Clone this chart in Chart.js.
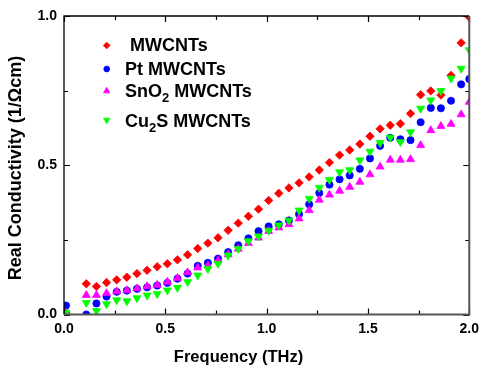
<!DOCTYPE html>
<html>
<head>
<meta charset="utf-8">
<script src="https://cdn.jsdelivr.net/npm/chart.js@4"></script>
<style>
html,body{margin:0;padding:0;background:#fff;}
canvas{display:block;}
</style>
</head>
<body>
<canvas id="c" width="485" height="369"></canvas>
<script>
// Frequency (THz)
const freq = [0.01, 0.11, 0.16, 0.21, 0.26, 0.31, 0.36, 0.41, 0.46, 0.51, 0.56, 0.61, 0.66, 0.71, 0.76, 0.81, 0.86, 0.91, 0.96, 1.01,
              1.06, 1.11, 1.16, 1.21, 1.26, 1.31, 1.36, 1.41, 1.46, 1.51, 1.56, 1.61, 1.66, 1.71, 1.76, 1.81, 1.86, 1.91, 1.96, 2.0];
// Real conductivity (1/Ωcm)
const mwcnts = [0.005, 0.103, 0.094, 0.107, 0.116, 0.125, 0.137, 0.148, 0.160, 0.170, 0.183, 0.200, 0.221, 0.239, 0.257, 0.282, 0.306, 0.329, 0.353, 0.382,
                0.406, 0.424, 0.441, 0.461, 0.484, 0.509, 0.534, 0.551, 0.571, 0.597, 0.622, 0.634, 0.639, 0.673, 0.736, 0.749, 0.735, 0.801, 0.910, 0.996];
const ptMwcnts = [0.030, 0.000, 0.037, 0.060, 0.076, 0.080, 0.086, 0.091, 0.097, 0.106, 0.120, 0.137, 0.163, 0.173, 0.187, 0.209, 0.232, 0.255, 0.279, 0.295,
                  0.302, 0.315, 0.336, 0.369, 0.407, 0.435, 0.453, 0.466, 0.488, 0.523, 0.565, 0.592, 0.587, 0.584, 0.644, 0.692, 0.691, 0.716, 0.771, 0.789];
const sno2Mwcnts = [0.005, 0.065, 0.065, 0.071, 0.077, 0.081, 0.087, 0.094, 0.099, 0.109, 0.122, 0.141, 0.157, 0.164, 0.181, 0.201, 0.220, 0.239, 0.257, 0.279,
                    0.291, 0.302, 0.321, 0.349, 0.384, 0.401, 0.414, 0.427, 0.444, 0.469, 0.495, 0.518, 0.518, 0.520, 0.567, 0.617, 0.631, 0.638, 0.670, 0.712];
const cu2sMwcnts = [0.007, 0.039, 0.012, 0.035, 0.048, 0.045, 0.055, 0.064, 0.069, 0.081, 0.090, 0.109, 0.131, 0.153, 0.170, 0.198, 0.220, 0.246, 0.262, 0.281,
                    0.299, 0.315, 0.349, 0.388, 0.425, 0.451, 0.477, 0.484, 0.517, 0.546, 0.575, 0.593, 0.578, 0.611, 0.690, 0.718, 0.749, 0.791, 0.824, 0.886];
const xTicks = [0, 0.5, 1.0, 1.5, 2.0];
const yTicks = [0, 0.5, 1.0];
const xTitle = 'Frequency (THz)';
const yTitle = 'Real Conductivity (1/\u03A9cm)';
// legend: [main, subscript, rest]
const legendParts = [[' MWCNTs', '', ''], ['Pt MWCNTs', '', ''], ['SnO', '2', ' MWCNTs'], ['Cu', '2', 'S MWCNTs']];

const FONT = '"Liberation Sans", Arial, Helvetica, sans-serif';
const toPts = ys => freq.map((x, i) => ({x: x, y: ys[i]}));

const styles = [
  {color: '#FF0000', pointStyle: 'rectRot', radius: 4.2, rotation: 0},
  {color: '#0000FF', pointStyle: 'circle', radius: 3.6, rotation: 0},
  {color: '#FF00FF', pointStyle: 'triangle', radius: 4.6, rotation: 0},
  {color: '#00FF00', pointStyle: 'triangle', radius: 4.6, rotation: 180}
];
const series = [mwcnts, ptMwcnts, sno2Mwcnts, cu2sMwcnts];

const datasets = series.map((s, i) => ({
  label: legendParts[i].join(''),
  data: toPts(s),
  showLine: false,
  pointStyle: styles[i].pointStyle,
  pointRadius: styles[i].radius,
  pointRotation: styles[i].rotation,
  pointBackgroundColor: styles[i].color,
  pointBorderColor: styles[i].color,
  pointBorderWidth: 0.8,
  order: 4 - i
}));

const framePlugin = {
  id: 'frame',
  afterDatasetsDraw(chart) {
    const ctx = chart.ctx, a = chart.chartArea;
    const xs = chart.scales.x, ys = chart.scales.y;
    ctx.save();
    // ticks
    ctx.strokeStyle = '#000';
    ctx.lineWidth = 1.2;
    for (let v = 0; v <= 2.0001; v += 0.25) {
      const px = Math.round(xs.getPixelForValue(v)) + 0.5;
      const major = Math.abs(v * 2 - Math.round(v * 2)) < 1e-6;
      const len = major ? 6 : 4;
      ctx.beginPath();
      ctx.moveTo(px, a.bottom); ctx.lineTo(px, a.bottom - len);
      ctx.moveTo(px, a.top); ctx.lineTo(px, a.top + len);
      ctx.stroke();
    }
    for (let v = 0; v <= 1.0001; v += 0.25) {
      const py = Math.round(ys.getPixelForValue(v)) + 0.5;
      const major = Math.abs(v * 2 - Math.round(v * 2)) < 1e-6;
      const len = major ? 6 : 4;
      ctx.beginPath();
      ctx.moveTo(a.left, py); ctx.lineTo(a.left + len, py);
      ctx.moveTo(a.right, py); ctx.lineTo(a.right - len, py);
      ctx.stroke();
    }
    // frame
    ctx.lineWidth = 1.3;
    ctx.strokeStyle = '#000';
    ctx.beginPath();
    ctx.moveTo(a.left, a.bottom); ctx.lineTo(a.left, a.top); ctx.lineTo(a.right, a.top);
    ctx.stroke();
    ctx.lineWidth = 2;
    ctx.strokeStyle = '#555';
    ctx.beginPath();
    ctx.moveTo(a.right, a.top); ctx.lineTo(a.right, a.bottom); ctx.lineTo(a.left, a.bottom);
    ctx.stroke();
    ctx.restore();
  },
  afterDraw(chart) {
    const ctx = chart.ctx;
    ctx.save();
    ctx.fillStyle = '#000';
    // axis titles
    ctx.font = 'bold 16.5px ' + FONT;
    ctx.textAlign = 'center';
    ctx.textBaseline = 'middle';
    ctx.fillText(xTitle, 238.5, 357);
    ctx.save();
    ctx.translate(16, 168);
    ctx.rotate(-Math.PI / 2);
    ctx.font = 'bold 18px ' + FONT;
    ctx.fillText(yTitle, 0, 0);
    ctx.restore();
    // legend
    const rows = [45.5, 69, 91, 120];
    const baselines = [50.8, 75, 96.7, 126.7];
    const mx = 106.7;
    legendParts.forEach((p, i) => {
      const st = styles[i];
      ctx.fillStyle = st.color;
      ctx.strokeStyle = st.color;
      ctx.lineWidth = 0.8;
      Chart.helpers.drawPoint(ctx, {pointStyle: st.pointStyle, radius: st.radius * 0.8, rotation: st.rotation, borderWidth: 0.8}, mx, rows[i]);
      ctx.fillStyle = '#000';
      ctx.textAlign = 'left';
      ctx.textBaseline = 'alphabetic';
      let x = 125;
      ctx.font = 'bold 18px ' + FONT;
      ctx.fillText(p[0], x, baselines[i]);
      x += ctx.measureText(p[0]).width;
      if (p[1]) {
        ctx.font = 'bold 13px ' + FONT;
        ctx.fillText(p[1], x, baselines[i] + 5);
        x += ctx.measureText(p[1]).width;
        ctx.font = 'bold 18px ' + FONT;
        ctx.fillText(p[2], x, baselines[i]);
      }
    });
    ctx.restore();
  }
};

new Chart(document.getElementById('c'), {
  type: 'scatter',
  data: {datasets: datasets},
  options: {
    responsive: false,
    animation: false,
    devicePixelRatio: 1,
    layout: {padding: {left: 0, right: 10.5, top: 16, bottom: 0}},
    plugins: {legend: {display: false}, tooltip: {enabled: false}},
    scales: {
      x: {
        type: 'linear', min: 0, max: 2,
        afterFit(s) { s.height = 54.5; },
        afterBuildTicks(s) { s.ticks = xTicks.map(v => ({value: v})); },
        grid: {display: false, drawTicks: false},
        border: {display: false},
        ticks: {
          padding: 6, maxRotation: 0, autoSkip: false, color: '#000',
          font: {family: FONT, size: 14, weight: 'bold'},
          callback: v => Number(v).toFixed(1)
        }
      },
      y: {
        type: 'linear', min: 0, max: 1,
        afterFit(s) { s.width = 64; },
        afterBuildTicks(s) { s.ticks = yTicks.map(v => ({value: v})); },
        grid: {display: false, drawTicks: false},
        border: {display: false},
        ticks: {
          padding: 7, autoSkip: false, color: '#000',
          font: {family: FONT, size: 14, weight: 'bold'},
          callback: v => Number(v).toFixed(1)
        }
      }
    }
  },
  plugins: [framePlugin]
});
</script>
</body>
</html>
